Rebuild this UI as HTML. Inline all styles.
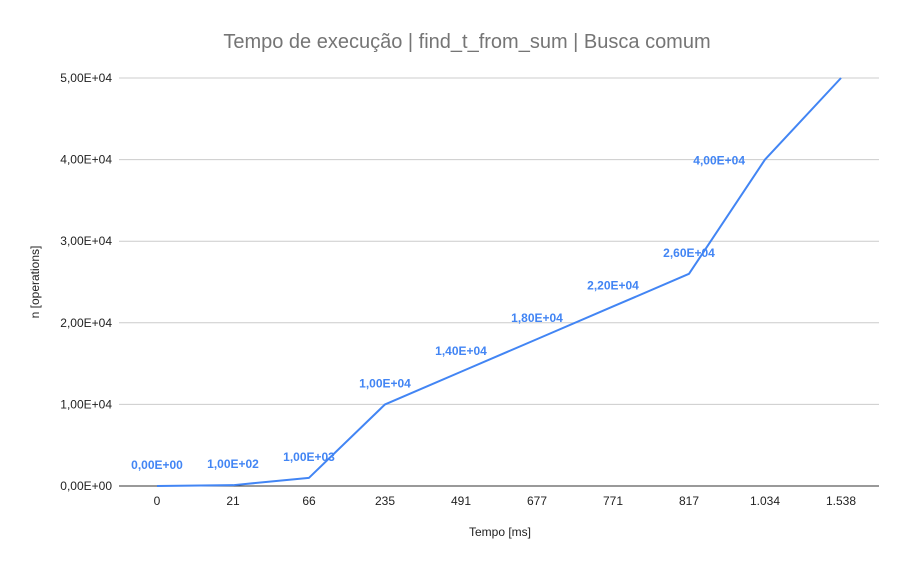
<!DOCTYPE html>
<html><head><meta charset="utf-8"><style>
body{margin:0;background:#fff;font-family:"Liberation Sans",Arial,sans-serif}
svg text{font-family:"Liberation Sans",Arial,sans-serif}
</style></head><body>
<svg id="chart" width="907" height="567" xmlns="http://www.w3.org/2000/svg">
<rect width="907" height="567" fill="#fff"/>
<text x="467" y="48" text-anchor="middle" font-size="20" fill="#757575">Tempo de execução | find_t_from_sum | Busca comum</text>
<g id="grid"></g><g id="yticks"></g><g id="xticks"></g><g id="series"></g><g id="labels"></g>
<text x="500" y="536" text-anchor="middle" font-size="12" fill="#222">Tempo [ms]</text>
<text transform="translate(39,282) rotate(-90)" text-anchor="middle" font-size="12" fill="#222">n [operations]</text>
</svg>
<script>
const categories=["0","21","66","235","491","677","771","817","1.034","1.538"];
const values=[0,100,1000,10000,14000,18000,22000,26000,40000,50000];
const pointLabels=["0,00E+00","1,00E+02","1,00E+03","1,00E+04","1,40E+04","1,80E+04","2,20E+04","2,60E+04","4,00E+04",""];
const yTicks=[0,10000,20000,30000,40000,50000];
const yTickLabels=["0,00E+00","1,00E+04","2,00E+04","3,00E+04","4,00E+04","5,00E+04"];
const NS="http://www.w3.org/2000/svg";
const plotLeft=119,plotRight=879,plotTop=78,plotBottom=486,yMax=50000;
const band=(plotRight-plotLeft)/categories.length;
const xs=i=>plotLeft+band*(i+0.5);
const ys=v=>plotBottom-(v/yMax)*(plotBottom-plotTop);
function mk(t,a,p){const e=document.createElementNS(NS,t);for(const k in a)e.setAttribute(k,a[k]);p.appendChild(e);return e;}
const grid=document.getElementById('grid'),yt=document.getElementById('yticks'),xt=document.getElementById('xticks');
yTicks.forEach((v,i)=>{
 const l=mk('line',{x1:plotLeft,x2:plotRight,y1:ys(v),y2:ys(v),stroke:i==0?'#333':'#ccc','stroke-width':1},grid);
 
 
 const t=mk('text',{x:112,y:ys(v)+4,'text-anchor':'end','font-size':12,fill:'#222'},yt);
 t.textContent=yTickLabels[i];
 
 
});
categories.forEach((c,i)=>{
 const t=mk('text',{x:xs(i),y:505,'text-anchor':'middle','font-size':12,fill:'#222'},xt);
 t.textContent=c;
 
 
});
const pts=values.map((v,i)=>xs(i)+','+ys(v)).join(' ');
const pl=mk('polyline',{points:pts,fill:'none',stroke:'#4285f4','stroke-width':2,'stroke-linejoin':'round'},document.getElementById('series'));


const lg=document.getElementById('labels');
values.forEach((v,i)=>{
 if(!pointLabels[i])return;
 let x=xs(i),y=ys(v)-17,anchor='middle';
 if(i==8){x=xs(i)-20;y=ys(v)+5;anchor='end';}
 const t=mk('text',{x:x,y:y,'text-anchor':anchor,'font-size':12,'font-weight':'bold',fill:'#4285f4'},lg);
 t.textContent=pointLabels[i];
 
 
});
</script>
</body></html>
